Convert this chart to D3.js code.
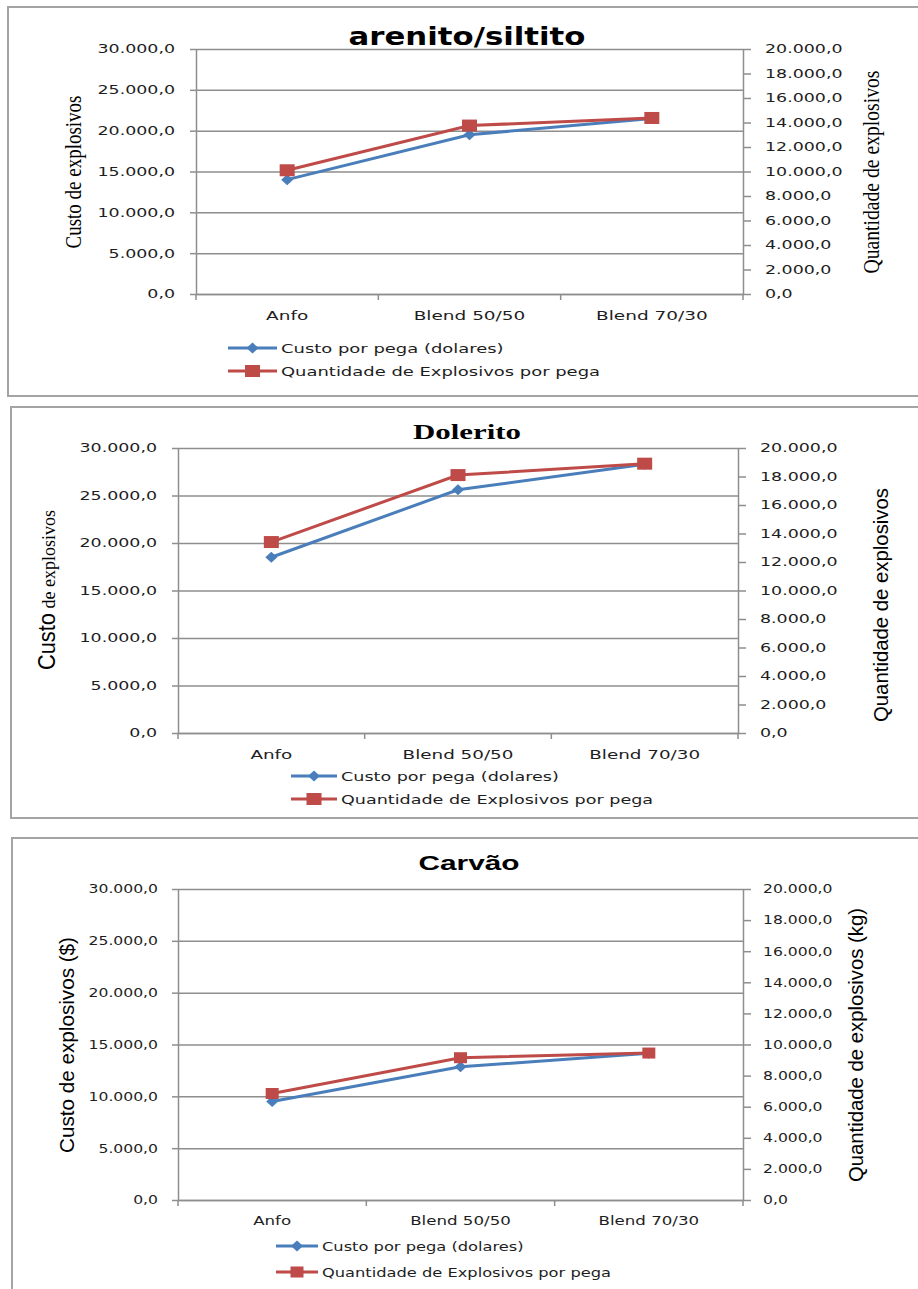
<!DOCTYPE html>
<html><head><meta charset="utf-8">
<script src="https://cdn.jsdelivr.net/npm/d3@7"></script>
<style>body{margin:0;background:#fff} svg{display:block}</style>
</head><body>
<svg id="c" width="918" height="1289"></svg>
<script>
// ---------- data ----------
const categories = ["Anfo", "Blend 50/50", "Blend 70/30"];
const seriesNames = ["Custo por pega (dolares)", "Quantidade de Explosivos por pega"];
const titles = ["arenito/siltito", "Dolerito", "Carvão"];
const custoArenito = [14000, 19500, 21500];
const quantArenito = [10100, 13750, 14370];
const custoDolerito = [18500, 25600, 28300];
const quantDolerito = [13400, 18100, 18900];
const custoCarvao = [9500, 12850, 14150];
const quantCarvao = [6850, 9150, 9450];
const leftTicks = [0, 5000, 10000, 15000, 20000, 25000, 30000];
const rightTicks = [0, 2000, 4000, 6000, 8000, 10000, 12000, 14000, 16000, 18000, 20000];
const leftTitles = [["Custo de explosivos"], ["Custo", " de explosivos"], ["Custo de explosivos  ($)"]];
const rightTitles = ["Quantidade  de explosivos", "Quantidade de explosivos", "Quantidade de explosivos (kg)"];

// ---------- style / layout ----------
const BLUE = "#4a7ebb", RED = "#be4b48", GRID = "#8e8e8e", AXIS = "#8e8e8e", TXT = "#1e1e1e";
const fmt = d3.formatLocale({decimal: ",", thousands: ".", grouping: [3], currency: ["R$", ""]}).format(",.1f");
const svg = d3.select("#c");

function stretch(sel, f) {
  sel.each(function () {
    const w = this.getComputedTextLength();
    if (w > 0) { this.setAttribute("textLength", w * f); this.setAttribute("lengthAdjust", "spacingAndGlyphs"); }
  });
}

const layouts = [
  {frame: [8, 7, 915, 389], l: 196, r: 743, t: 49, b: 294, lpad: 15, rpad: 14, catPad: 17,
   title: {x: 467, y: 45, font: 'bold 25px "DejaVu Sans"', len: 237},
   tickF: 1.45, catF: 1.42, legF: 1.38, sq: [15, 12],
   legend: {x1: 228, x2: 277, tx: 281, y1: 348, y2: 371},
   ylt: {x: 75, y: 172, len: 153, fonts: ['24px "Liberation Serif"']},
   yrt: {x: 871, y: 172, len: 203, font: '24px "Liberation Serif"'}},
  {frame: [11, 407, 915, 411], l: 178, r: 738, t: 448, b: 733, lpad: 15, rpad: 14, catPad: 17,
   title: {x: 467, y: 439, font: 'bold 22px "Liberation Serif"', len: 108},
   tickF: 1.45, catF: 1.41, legF: 1.35, sq: [15, 12],
   legend: {x1: 291, x2: 337, tx: 341, y1: 776, y2: 799},
   ylt: {x: 49, y: 590, len: 160, fonts: ['23px "Liberation Sans"', '19px "Liberation Serif"']},
   yrt: {x: 881, y: 605, len: 234, font: '21px "Liberation Sans"'}},
  {frame: [12, 838, 915, 470], l: 178, r: 743, t: 889, b: 1200, lpad: 14, rpad: 12, catPad: 16,
   title: {x: 469, y: 870, font: 'bold 21px "Liberation Sans"', len: 101},
   tickF: 1.3, catF: 1.28, legF: 1.25, sq: [13, 11],
   legend: {x1: 276, x2: 318, tx: 322, y1: 1246, y2: 1272},
   ylt: {x: 68, y: 1045, len: 216, fonts: ['21px "Liberation Sans"']},
   yrt: {x: 856, y: 1045, len: 274, font: '21px "Liberation Sans"'}}
];

function diamond(sel, cx, cy) {
  sel.append("path").attr("d", "M0,-5.5L6,0L0,5.5L-6,0Z")
    .attr("transform", `translate(${cx},${cy})`).attr("fill", BLUE);
}
function square(sel, cx, cy, s) {
  sel.append("rect").attr("x", cx - s[0] / 2).attr("y", cy - s[1] / 2)
    .attr("width", s[0]).attr("height", s[1]).attr("fill", RED);
}

function drawChart(i, custo, quant) {
  const L = layouts[i];
  const g = svg.append("g");
  g.append("rect").attr("x", L.frame[0]).attr("y", L.frame[1]).attr("width", L.frame[2]).attr("height", L.frame[3])
    .attr("fill", "#fff").attr("stroke", "#a4a4a4").attr("stroke-width", 2);

  const x = d3.scaleBand().domain(categories).range([L.l, L.r]);
  const yL = d3.scaleLinear().domain([0, 30000]).range([L.b, L.t]);
  const yR = d3.scaleLinear().domain([0, 20000]).range([L.b, L.t]);
  const cx = d => x(d) + x.bandwidth() / 2;

  // gridlines
  const grid = g.append("g").attr("transform", `translate(${L.l},0)`)
    .call(d3.axisLeft(yL).tickValues(leftTicks).tickSize(-(L.r - L.l)).tickSizeOuter(0).tickFormat(""));
  grid.select(".domain").remove();
  grid.selectAll("line").attr("stroke", GRID).attr("stroke-width", 1.5);

  // left axis
  const ax = g.append("g").attr("transform", `translate(${L.l},0)`)
    .call(d3.axisLeft(yL).tickValues(leftTicks).tickSize(6).tickSizeOuter(0).tickPadding(L.lpad).tickFormat(fmt));
  ax.select(".domain").attr("stroke", AXIS).attr("stroke-width", 1.5);
  ax.selectAll("line").attr("stroke", AXIS).attr("stroke-width", 1.5);
  ax.selectAll("text").attr("font-family", "DejaVu Sans").attr("font-size", 12).attr("fill", TXT);
  stretch(ax.selectAll("text"), L.tickF);

  // right axis
  const ar = g.append("g").attr("transform", `translate(${L.r},0)`)
    .call(d3.axisRight(yR).tickValues(rightTicks).tickSize(8).tickSizeOuter(0).tickPadding(L.rpad).tickFormat(fmt));
  ar.select(".domain").attr("stroke", AXIS).attr("stroke-width", 1.5);
  ar.selectAll("line").attr("stroke", AXIS).attr("stroke-width", 1.5);
  ar.selectAll("text").attr("font-family", "DejaVu Sans").attr("font-size", 12).attr("fill", TXT);
  stretch(ar.selectAll("text"), L.tickF);

  // bottom axis
  const ab = g.append("g").attr("transform", `translate(0,${L.b})`)
    .call(d3.axisBottom(x).tickSize(0).tickSizeOuter(0).tickPadding(L.catPad));
  ab.select(".domain").attr("stroke", AXIS).attr("stroke-width", 1.5);
  ab.selectAll("text").attr("font-family", "DejaVu Sans").attr("font-size", 13).attr("fill", TXT);
  stretch(ab.selectAll("text"), L.catF);
  const bounds = d3.range(categories.length + 1).map(k => L.l + k * x.step());
  g.append("g").selectAll("line").data(bounds).join("line")
    .attr("x1", d => d).attr("x2", d => d).attr("y1", L.b).attr("y2", L.b + 6)
    .attr("stroke", AXIS).attr("stroke-width", 1.5);

  // series
  const lineL = d3.line().x((d, k) => cx(categories[k])).y(d => yL(d));
  const lineR = d3.line().x((d, k) => cx(categories[k])).y(d => yR(d));
  g.append("path").datum(custo).attr("d", lineL).attr("fill", "none").attr("stroke", BLUE).attr("stroke-width", 3);
  custo.forEach((v, k) => diamond(g, cx(categories[k]), yL(v)));
  g.append("path").datum(quant).attr("d", lineR).attr("fill", "none").attr("stroke", RED).attr("stroke-width", 3);
  quant.forEach((v, k) => square(g, cx(categories[k]), yR(v), L.sq));

  // title
  g.append("text").attr("x", L.title.x).attr("y", L.title.y).attr("text-anchor", "middle")
    .style("font", L.title.font).attr("fill", "#000").text(titles[i])
    .attr("textLength", L.title.len).attr("lengthAdjust", "spacingAndGlyphs");

  // legend
  const lg = L.legend;
  [lg.y1, lg.y2].forEach((yy, k) => {
    g.append("line").attr("x1", lg.x1).attr("x2", lg.x2).attr("y1", yy).attr("y2", yy)
      .attr("stroke", k ? RED : BLUE).attr("stroke-width", 3);
    const mx = (lg.x1 + lg.x2) / 2;
    if (k) square(g, mx, yy, L.sq); else diamond(g, mx, yy);
    const t = g.append("text").attr("x", lg.tx).attr("y", yy).attr("dy", "0.36em")
      .attr("font-family", "DejaVu Sans").attr("font-size", 13).attr("fill", TXT).text(seriesNames[k]);
    stretch(t, L.legF);
  });

  // axis titles
  const lt = g.append("text").attr("transform", `translate(${L.ylt.x},${L.ylt.y}) rotate(-90)`)
    .attr("text-anchor", "middle").attr("dy", "0.35em").attr("fill", "#000")
    .attr("textLength", L.ylt.len).attr("lengthAdjust", "spacingAndGlyphs");
  leftTitles[i].forEach((p, k) => lt.append("tspan").style("font", L.ylt.fonts[k]).text(p));
  g.append("text").attr("transform", `translate(${L.yrt.x},${L.yrt.y}) rotate(-90)`)
    .attr("text-anchor", "middle").attr("dy", "0.35em").attr("fill", "#000")
    .style("font", L.yrt.font).text(rightTitles[i])
    .attr("textLength", L.yrt.len).attr("lengthAdjust", "spacingAndGlyphs");
}

drawChart(0, custoArenito, quantArenito);
drawChart(1, custoDolerito, quantDolerito);
drawChart(2, custoCarvao, quantCarvao);
</script>
</body></html>
